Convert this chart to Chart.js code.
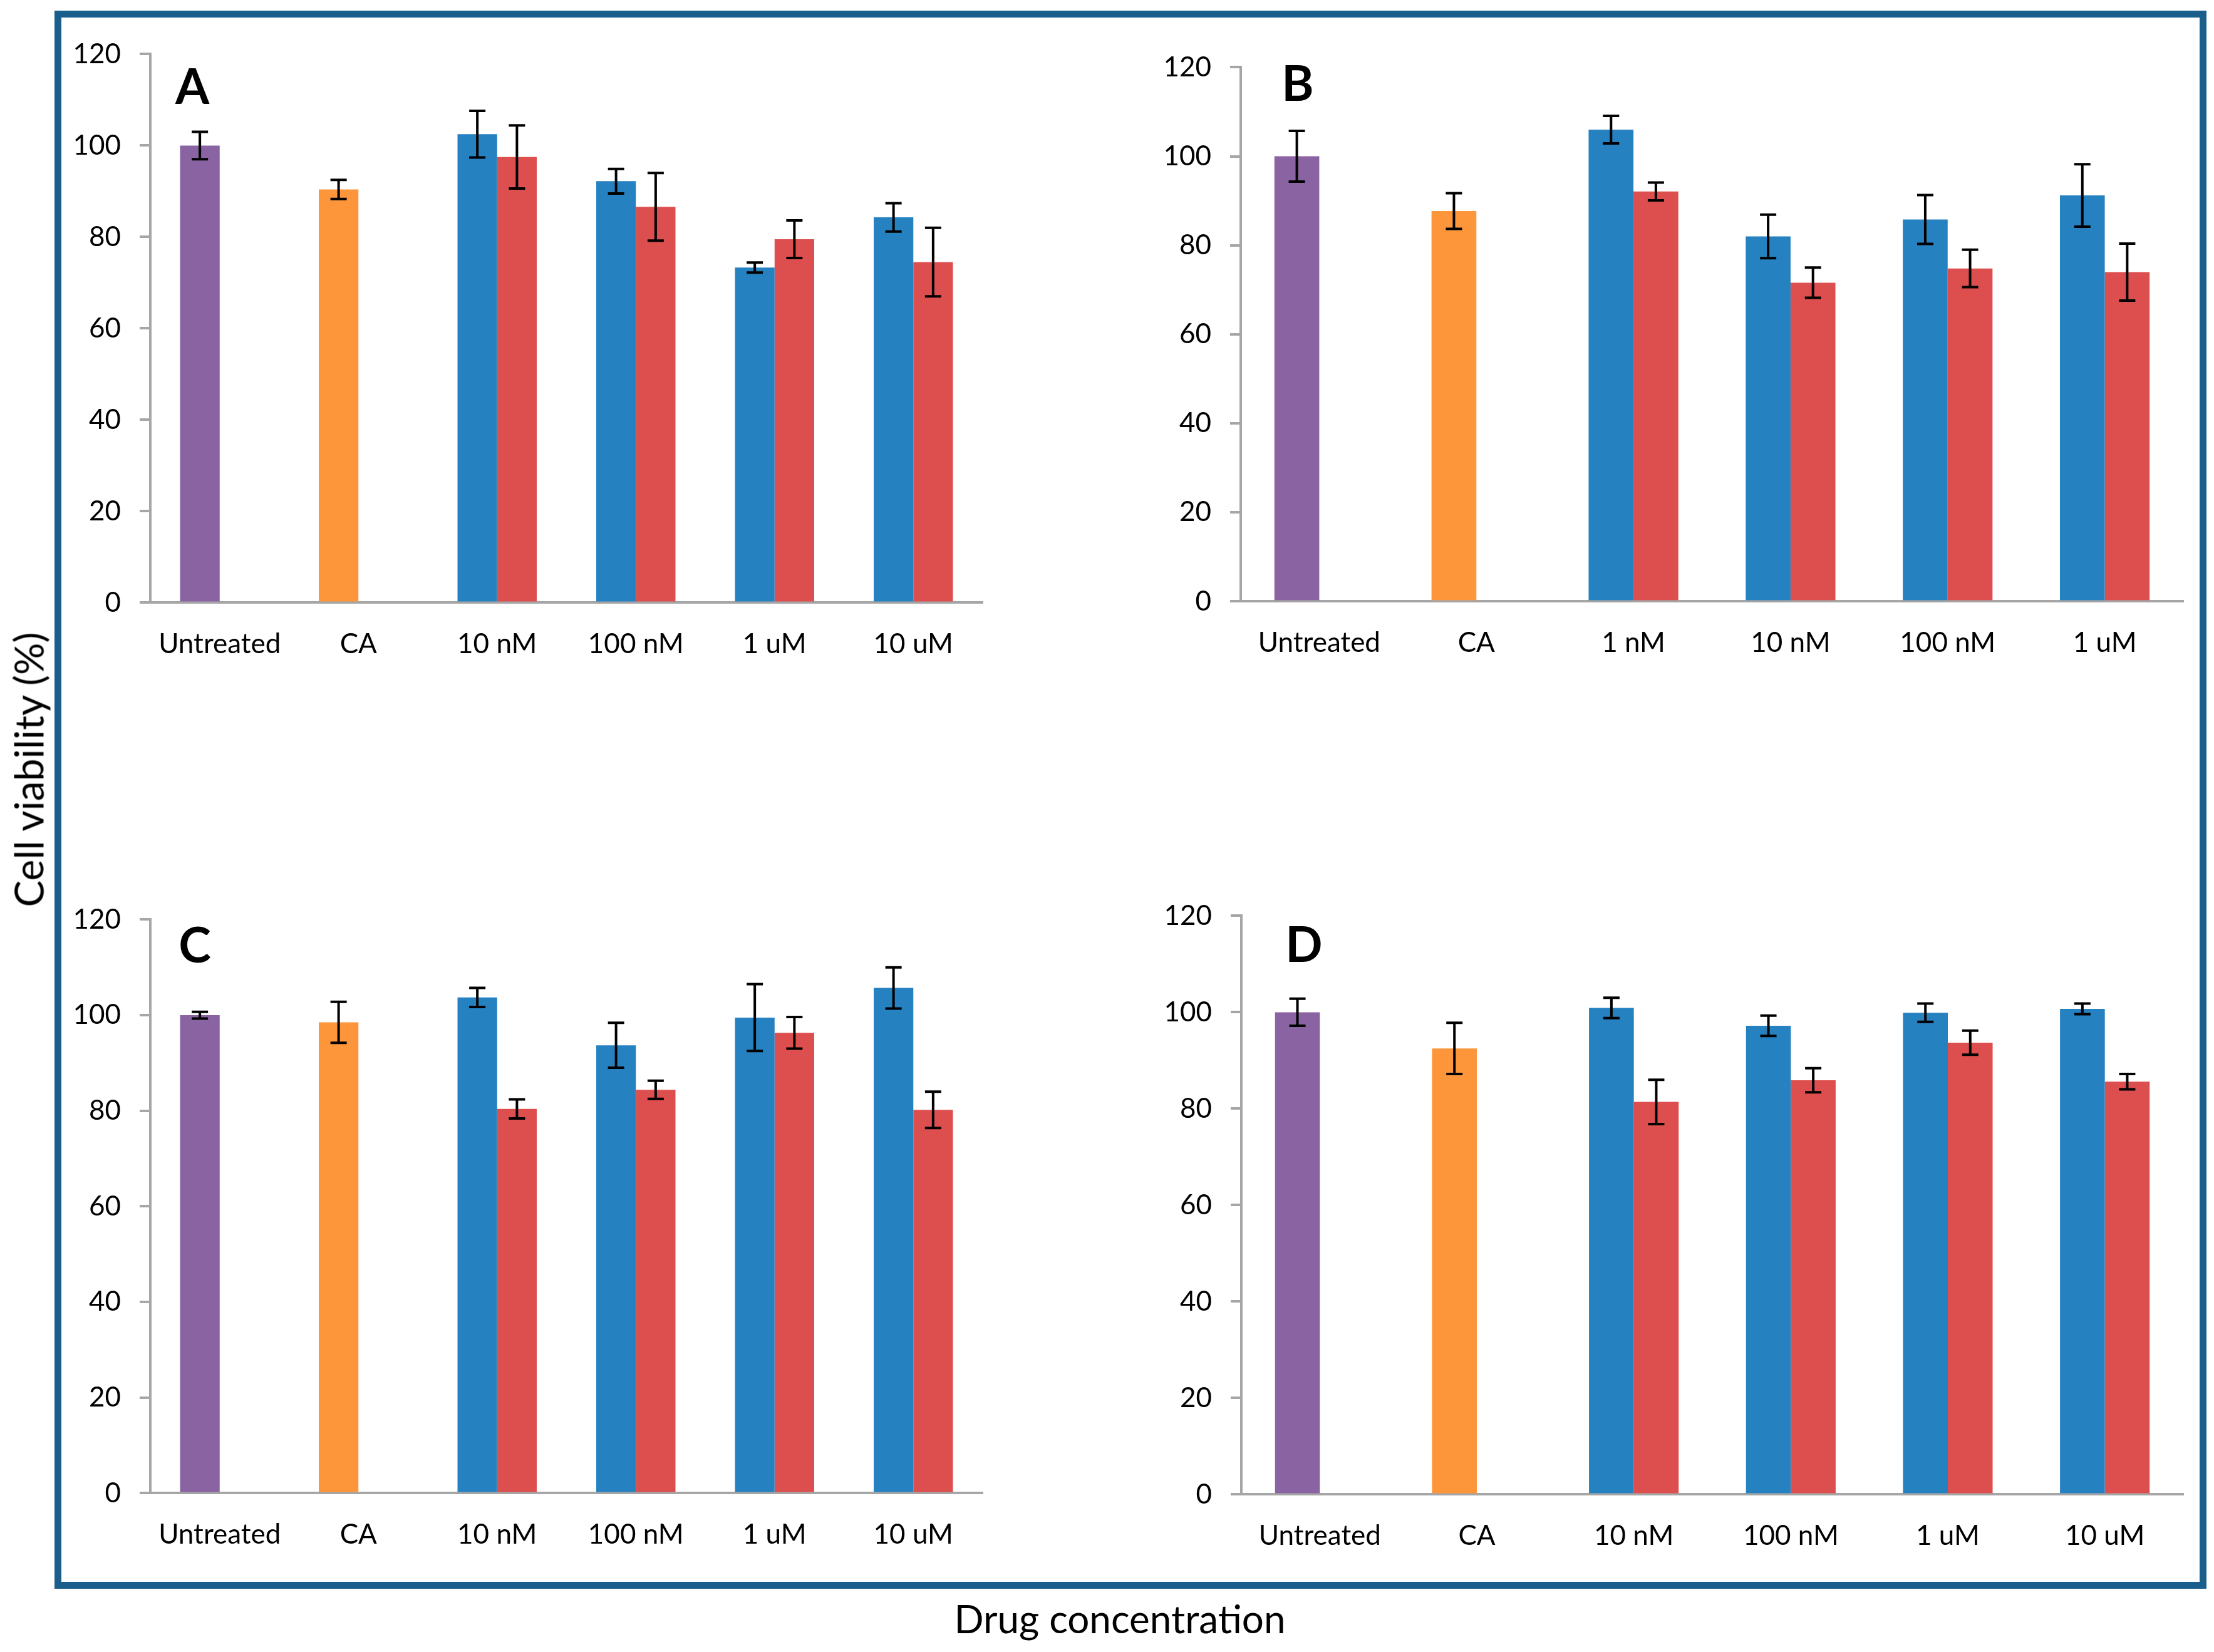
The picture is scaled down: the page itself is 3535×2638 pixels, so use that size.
<!DOCTYPE html>
<html lang="en">
<head>
    <meta charset="UTF-8">
    <title>Cell viability</title>
    <script src="https://cdn.jsdelivr.net/npm/chart.js"></script>
    <style>
        html, body { margin: 0; padding: 0; background: #fff; }
        #page { position: relative; width: 3535px; height: 2638px; overflow: hidden; font-family: Lato, "Open Sans", sans-serif; }
        .frame { position: absolute; left: 87px; top: 17px; width: 3436px; height: 2520px; box-sizing: border-box; border: 11px solid #1a5e8c; }
        canvas { position: absolute; }
        .ytitle { position: absolute; left: 45px; top: 1229px; transform: translate(-50%, -50%) rotate(-90deg); font-size: 64px; white-space: nowrap; color: #000; }
        .xtitle { position: absolute; left: 1788px; top: 2584px; transform: translate(-50%, -50%); font-size: 62px; white-space: nowrap; color: #000; }
    </style>
</head>
<body>
<div id="page">
    <div class="frame"></div>
    <canvas id="chartA"></canvas>
    <canvas id="chartB"></canvas>
    <canvas id="chartC"></canvas>
    <canvas id="chartD"></canvas>
    <div class="ytitle">Cell viability (%)</div>
    <div class="xtitle">Drug concentration</div>
</div>

<script>
    // categories
    const labelsA = ['Untreated', 'CA', '10 nM', '100 nM', '1 uM', '10 uM'];
    const labelsB = ['Untreated', 'CA', '1 nM', '10 nM', '100 nM', '1 uM'];
    const labelsC = ['Untreated', 'CA', '10 nM', '100 nM', '1 uM', '10 uM'];
    const labelsD = ['Untreated', 'CA', '10 nM', '100 nM', '1 uM', '10 uM'];

    // first bar of each category (Untreated / CA / blue series)
    const firstA = [100, 90.4, 102.5, 92.2, 73.3, 84.3];
    const firstErrA = [3.0, 2.1, 5.1, 2.7, 1.1, 3.1];
    const secondA = [null, null, 97.5, 86.6, 79.5, 74.5];
    const secondErrA = [null, null, 6.9, 7.4, 4.1, 7.5];

    const firstB = [100, 87.7, 106.0, 82.0, 85.8, 91.2];
    const firstErrB = [5.7, 4.0, 3.1, 4.9, 5.5, 7.0];
    const secondB = [null, null, 92.1, 71.6, 74.8, 74.0];
    const secondErrB = [null, null, 2.0, 3.4, 4.2, 6.4];

    const firstC = [100, 98.5, 103.7, 93.7, 99.5, 105.7];
    const firstErrC = [0.7, 4.3, 2.0, 4.7, 7.0, 4.3];
    const secondC = [null, null, 80.4, 84.4, 96.3, 80.2];
    const secondErrC = [null, null, 2.0, 1.9, 3.3, 3.8];

    const firstD = [100, 92.5, 100.9, 97.2, 99.9, 100.7];
    const firstErrD = [2.8, 5.3, 2.1, 2.1, 1.9, 1.1];
    const secondD = [null, null, 81.4, 85.9, 93.7, 85.6];
    const secondErrD = [null, null, 4.6, 2.5, 2.5, 1.6];

    const yTicks = [0, 20, 40, 60, 80, 100, 120];

    const PURPLE = '#8a63a2', ORANGE = '#fd963b', BLUE = '#2581c0', RED = '#dd4f4e';
    const firstColors = [PURPLE, ORANGE, BLUE, BLUE, BLUE, BLUE];

    // error bars drawn from the data through the y scale
    const errorBars = {
        id: 'errorBars',
        afterDatasetsDraw(chart) {
            const ctx = chart.ctx;
            const y = chart.scales.y;
            ctx.save();
            ctx.strokeStyle = '#000';
            ctx.lineWidth = 4;
            chart.data.datasets.forEach((ds, i) => {
                const meta = chart.getDatasetMeta(i);
                meta.data.forEach((bar, j) => {
                    const v = ds.data[j], e = ds.errors[j];
                    if (v == null || e == null) return;
                    const top = y.getPixelForValue(v + e);
                    const bot = y.getPixelForValue(v - e);
                    ctx.beginPath();
                    ctx.moveTo(bar.x, top); ctx.lineTo(bar.x, bot);
                    ctx.moveTo(bar.x - 13, top); ctx.lineTo(bar.x + 13, top);
                    ctx.moveTo(bar.x - 13, bot); ctx.lineTo(bar.x + 13, bot);
                    ctx.stroke();
                });
            });
            ctx.restore();
        }
    };

    // panel letter (A, B, C, D) inside the plot area
    const panelLetter = {
        id: 'panelLetter',
        afterDraw(chart, args, opts) {
            const a = chart.chartArea;
            const ctx = chart.ctx;
            ctx.save();
            ctx.font = 'bold 78px Lato, "Open Sans", sans-serif';
            ctx.fillStyle = '#000';
            ctx.textAlign = 'center';
            ctx.textBaseline = 'middle';
            ctx.fillText(opts.text, a.left + opts.dx, a.top + opts.dy);
            ctx.restore();
        }
    };

    function makePanel(id, box, labels, first, firstErr, second, secondErr, letter) {
        const padL = 160, padT = 40, padR = 20, padB = 110;
        const el = document.getElementById(id);
        const w = box.R - box.L + padL + padR;
        el.width = w;
        el.height = box.B - box.T + padT + padB;
        const chart = new Chart(el, {
            type: 'bar',
            data: {
                labels: labels,
                datasets: [
                    { data: first, errors: firstErr, backgroundColor: firstColors },
                    { data: second, errors: secondErr, backgroundColor: RED }
                ]
            },
            options: {
                responsive: false,
                maintainAspectRatio: false,
                animation: false,
                devicePixelRatio: 1,
                layout: { padding: { top: padT, right: padR, left: 0, bottom: 0 } },
                datasets: { bar: { barPercentage: 1, categoryPercentage: 0.571 } },
                plugins: {
                    legend: { display: false },
                    tooltip: { enabled: false },
                    panelLetter: letter
                },
                scales: {
                    x: {
                        afterFit: s => { s.height = padB; },
                        grid: { display: false, drawTicks: false },
                        border: { display: true, color: '#a6a6a6', width: 4 },
                        ticks: { color: '#000', padding: 40, maxRotation: 0, font: { family: 'Lato', size: 44 } }
                    },
                    y: {
                        min: 0, max: 120,
                        afterFit: s => { s.width = padL; },
                        afterBuildTicks: s => { s.ticks = yTicks.map(v => ({ value: v })); },
                        grid: { display: true, drawOnChartArea: false, drawTicks: true, tickLength: 17, color: '#a6a6a6', lineWidth: 4 },
                        border: { display: true, color: '#a6a6a6', width: 4 },
                        ticks: { color: '#000', padding: 30, font: { family: 'Lato', size: 44 } }
                    }
                }
            },
            plugins: [errorBars, panelLetter]
        });
        // grow the canvas until the plot area has the reference height
        for (let k = 0; k < 6; k++) {
            const a = chart.chartArea;
            const need = (box.B - box.T) - (a.bottom - a.top);
            if (Math.abs(need) < 0.5) break;
            chart.resize(w, chart.height + need);
        }
        el.style.left = (box.L - padL) + 'px';
        el.style.top = (box.T - chart.chartArea.top) + 'px';
        return chart;
    }

    makePanel('chartA', { L: 240, R: 1569, T: 86, B: 962 }, labelsA, firstA, firstErrA, secondA, secondErrA, { text: 'A', dx: 67, dy: 54 });
    makePanel('chartB', { L: 1981, R: 3486, T: 107, B: 960 }, labelsB, firstB, firstErrB, secondB, secondErrB, { text: 'B', dx: 91, dy: 28 });
    makePanel('chartC', { L: 240, R: 1569, T: 1468, B: 2384 }, labelsC, firstC, firstErrC, secondC, secondErrC, { text: 'C', dx: 71, dy: 43 });
    makePanel('chartD', { L: 1982, R: 3486, T: 1462, B: 2386 }, labelsD, firstD, firstErrD, secondD, secondErrD, { text: 'D', dx: 100, dy: 48 });
</script>
</body>
</html>
